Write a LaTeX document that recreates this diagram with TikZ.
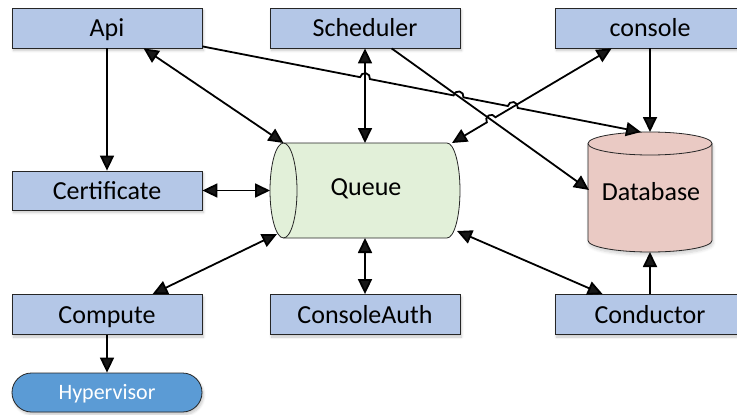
\documentclass[tikz,border=0pt]{standalone}
\usepackage{fontspec}
\setmainfont{Carlito}
\usetikzlibrary{arrows.meta,calc,shadows.blur}

\definecolor{boxblue}{HTML}{B4C7E7}
\definecolor{queuegreen}{HTML}{E2F0D9}
\definecolor{dbpink}{HTML}{EACAC4}
\definecolor{hyperblue}{HTML}{5B9BD5}
\definecolor{edgegray}{HTML}{262626}

\begin{document}
\begin{tikzpicture}[x=1pt,y=-1pt,
  softshadow/.style={blur shadow={shadow xshift=1.5pt, shadow yshift=-2.5pt,
      shadow blur radius=2.5pt, shadow blur steps=6, shadow opacity=22}},
  comp/.style={draw=edgegray, line width=0.8pt, fill=boxblue,
      minimum width=190pt, minimum height=40pt, inner sep=0pt,
      text height=20pt, text depth=3pt,
      font=\fontsize{26}{30}\selectfont, softshadow},
  hyper/.style={draw=edgegray, line width=0.8pt, fill=hyperblue, text=white,
      rounded corners=19.5pt, minimum width=190pt, minimum height=39pt,
      inner sep=0pt, text height=18pt, text depth=3.5pt,
      font=\fontsize{22}{26}\selectfont, softshadow},
  label/.style={inner sep=0pt, anchor=base, font=\fontsize{26}{30}\selectfont},
  tip/.tip={Triangle[length=15pt,width=14pt]},
  link/.style={line width=1.8pt, -tip},
  dlink/.style={line width=1.8pt, tip-tip},
]
\useasboundingbox (0,0) rectangle (737,415);

% service boxes
\node[comp] (api)       at (107,28)    {Api};
\node[comp] (sched)     at (365,28)    {Scheduler};
\node[comp] (console)   at (650,28)    {console};
\node[comp, minimum height=39pt] (cert) at (107,190.5) {Certificate};
\node[comp] (compute)   at (107,314.5) {Compute};
\node[comp] (cauth)     at (365,314.5) {ConsoleAuth};
\node[comp] (conductor) at (650,314.5) {Conductor};
\node[hyper] (hyper)    at (107,392.5) {Hypervisor};

% message queue: horizontal cylinder
\path[fill=queuegreen, draw=edgegray, line width=0.8pt]
  (283.5,143) -- (447,143)
  arc[start angle=90, end angle=-90, x radius=13pt, y radius=47.5pt]
  -- (283.5,238)
  arc[start angle=270, end angle=90, x radius=13.5pt, y radius=47.5pt] -- cycle;
\draw[edgegray, line width=0.8pt] (283.5,143)
  arc[start angle=90, end angle=-90, x radius=13.5pt, y radius=47.5pt];
\node[label] (queue) at (366,195) {Queue};

% database: vertical cylinder
\path[fill=dbpink, draw=edgegray, line width=0.8pt,
      blur shadow={shadow xshift=1pt, shadow yshift=-3pt, shadow blur radius=3pt,
      shadow blur steps=6, shadow opacity=18}]
  (588,143.5) -- (588,240.5)
  arc[start angle=180, end angle=360, x radius=62pt, y radius=11.5pt]
  -- (712,143.5)
  arc[start angle=0, end angle=180, x radius=62pt, y radius=11.5pt] -- cycle;
\draw[edgegray, line width=0.8pt] (588,143.5)
  arc[start angle=180, end angle=360, x radius=62pt, y radius=11.5pt];
\node[label] (db) at (651,200) {Database};

% attachment points on the cylinders
\coordinate (qw)  at (270,190.5);
\coordinate (qnw) at (283.5,143);
\coordinate (qn)  at (365,143);
\coordinate (qne) at (452,143);
\coordinate (qsw) at (277,234);
\coordinate (qs)  at (365,238);
\coordinate (qse) at (457,231);
\coordinate (dbn)  at (650,132);
\coordinate (dbnw) at (641,132);
\coordinate (dbw)  at (589,190);
\coordinate (dbs)  at (650,252);

% attachment points on the boxes
\coordinate (apie) at ($(api.south east)+(0,-2)$);
\coordinate (apis) at ($(api.south west)+(132,0)$);
\coordinate (scho) at ($(sched.south west)+(122,0)$);
\coordinate (cons) at ($(console.south west)+(57,0)$);
\coordinate (compn) at ($(compute.north west)+(141,0)$);
\coordinate (condn) at ($(conductor.north west)+(48,0)$);

% crossing points of the long connectors
\coordinate (h1) at (intersection of apie--dbnw and sched.south--qn);
\coordinate (h2) at (intersection of apie--dbnw and scho--dbw);
\coordinate (h3) at (intersection of apie--dbnw and qne--cons);
\coordinate (h4) at (intersection of qne--cons and scho--dbw);

% straight connectors
\draw[link]  (api.south) -- (cert.north);
\draw[dlink] (apis) -- (qnw);
\draw[dlink] (sched.south) -- (qn);
\draw[link]  (scho) -- (dbw);
\draw[link]  (console.south) -- (dbn);
\draw[dlink] (cert.east) -- (qw);
\draw[dlink] (qsw) -- (compn);
\draw[dlink] (qs) -- (cauth.north);
\draw[dlink] (qse) -- (condn);
\draw[link]  (conductor.north) -- (dbs);
\draw[link]  (compute.south) -- (hyper.north);

% connectors that hop over the lines they cross
\draw[link] (apie)
  -- ($(h1)!5pt!(apie)$) arc[start angle=168.92, end angle=-11.08, radius=5pt]
  -- ($(h2)!5pt!(apie)$) arc[start angle=168.92, end angle=-11.08, radius=5pt]
  -- ($(h3)!5pt!(apie)$) arc[start angle=168.92, end angle=-11.08, radius=5pt]
  -- (dbnw);
\draw[dlink] (qne)
  -- ($(h4)!5pt!(qne)$) arc[start angle=210.7, end angle=30.7, radius=5pt]
  -- (cons);
\end{tikzpicture}
\end{document}
